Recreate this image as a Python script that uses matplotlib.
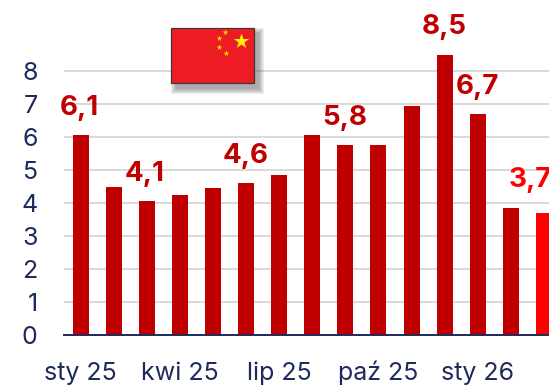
import matplotlib
matplotlib.use("Agg")
import matplotlib.pyplot as plt
from matplotlib.patches import Rectangle

W, H = 549, 385
months = ["sty 25", "lut 25", "mar 25", "kwi 25", "maj 25", "cze 25", "lip 25", "sie 25",
          "wrz 25", "paź 25", "lis 25", "gru 25", "sty 26", "lut 26", "mar 26"]
values = [6.05, 4.47, 4.05, 4.25, 4.45, 4.62, 4.85, 6.05, 5.75, 5.75, 6.95, 8.5, 6.7, 3.85, 3.7]
labelled = {0: "6,1", 2: "4,1", 5: "4,6", 8: "5,8", 11: "8,5", 12: "6,7", 14: "3,7"}
label_offsets_px = {0: (-1, 27), 2: (-2, 27), 5: (0, 27), 8: (-1, 27), 11: (0, 28), 12: (0, 27), 14: (-14, 33)}
xtick_every = 3
yticks = list(range(0, 9))

DARK = "#C00000"
BRIGHT = "#FF0000"
NAVY = "#1F2A5C"
GRID = "#D9D9D9"

fig = plt.figure(figsize=(W / 100, H / 100), dpi=100, facecolor="white")
ax = fig.add_axes([0, 0, 1, 1], facecolor="none")
unit_y, unit_x = 33.0, 33.1
ax.set_position([64 / W, (H - 335) / H, (W - 64) / W, 335 / H])
ax.set_xlim(-16.5 / unit_x, (W - 80.5) / unit_x)
ax.set_ylim(0, 335 / unit_y)

xs = list(range(len(values)))
colors = [DARK] * (len(values) - 1) + [BRIGHT]
ax.bar(xs, values, width=16 / unit_x, color=colors, zorder=3)

ax.set_yticks(yticks)
ax.set_xticks(xs[::xtick_every], months[::xtick_every])
ax.grid(axis="y", color=GRID, lw=1.4, zorder=1)
ax.set_axisbelow(True)
ax.tick_params(axis="both", length=0, labelcolor=NAVY, labelsize=18)
ax.tick_params(axis="y", pad=19)
ax.tick_params(axis="x", pad=32.5)
for t in ax.get_yticklabels():
    t.set_fontfamily("Inter")
for t in ax.get_xticklabels():
    t.set_fontfamily("Inter")
    t.set_verticalalignment("baseline")
for s in ("top", "right", "left"):
    ax.spines[s].set_visible(False)
ax.spines["bottom"].set_color(NAVY)
ax.spines["bottom"].set_linewidth(1.4)
ax.spines["bottom"].set_zorder(4)

for i, txt in labelled.items():
    dx, dy = label_offsets_px[i]
    ax.annotate(txt, (xs[i], values[i]), xytext=(dx * 0.72, dy * 0.72), textcoords="offset points",
                ha="center", va="center", fontsize=20, fontweight="bold",
                fontfamily="Inter", color=colors[i], annotation_clip=False, zorder=5)

ov = fig.add_axes([0, 0, 1, 1], facecolor="none", zorder=6)
ov.set_xlim(0, W)
ov.set_ylim(H, 0)
ov.axis("off")
for k in range(6):
    g = 6 - k
    ov.add_patch(Rectangle((177 - g, 34 - g), 81 + 2 * g, 54 + 2 * g, fc="#555555", ec="none", alpha=0.10))
ov.add_patch(Rectangle((171, 28), 82.5, 54.5, fc="#ED1C24", ec="#3A3A3A", lw=0.9))
ov.scatter([240.7], [41], marker="*", s=135, color="#FFF200", linewidths=0)
ov.scatter([225.3, 219.3, 219.3, 225.7], [32, 38, 47.3, 53], marker="*", s=20, color="#FFD400", linewidths=0)

fig.savefig("out.png", dpi=100)
